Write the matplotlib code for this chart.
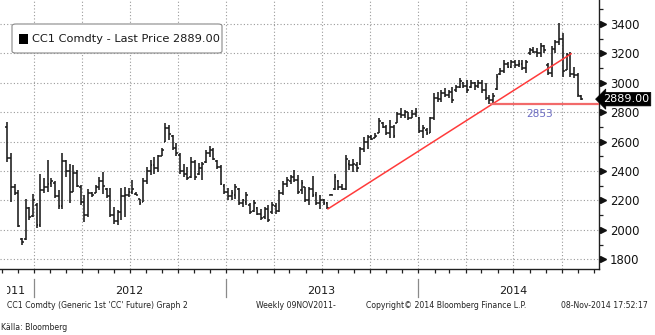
import matplotlib
matplotlib.use("Agg")
import matplotlib.pyplot as plt
import matplotlib.dates as mdates
from matplotlib.patches import FancyBboxPatch, Rectangle
from matplotlib.transforms import Bbox, blended_transform_factory
from matplotlib.lines import Line2D
import numpy as np
import pandas as pd

# ---- weekly OHLC, CC1 Comdty ----
week_start = "2011-11-11"
n_weeks = 157

opens = [2700, 2490, 2290, 2250, 1940, 1935, 2150, 2095, 2170, 2030,
         2270, 2290, 2320, 2320, 2230, 2160, 2470, 2400, 2260, 2390,
         2290, 2190, 2100, 2250, 2250, 2290, 2330, 2280, 2230, 2100,
         2060, 2120, 2230, 2240, 2260, 2245, 2210, 2190, 2330, 2400,
         2440, 2420, 2500, 2600, 2690, 2640, 2560, 2510, 2400, 2380,
         2360, 2460, 2380, 2420, 2460, 2520, 2540, 2470, 2430, 2300,
         2260, 2230, 2240, 2280, 2180, 2190, 2170, 2130, 2150, 2110,
         2090, 2140, 2120, 2160, 2130, 2250, 2310, 2330, 2360, 2340,
         2270, 2290, 2200, 2280, 2240, 2180, 2200, 2180, 2240, 2280,
         2330, 2290, 2280, 2450, 2440, 2440, 2450, 2550, 2600, 2630,
         2625, 2660, 2730, 2700, 2660, 2700, 2730, 2790, 2780, 2800,
         2760, 2790, 2760, 2670, 2680, 2660, 2760, 2900, 2890, 2930,
         2920, 2940, 2950, 2970, 3000, 2980, 2970, 3000, 2980, 3000,
         2950, 2900, 2880, 2960, 3060, 3080, 3130, 3110, 3140, 3120,
         3130, 3100, 3200, 3220, 3210, 3200, 3250, 3120, 3070, 3230,
         3280, 3300, 3090, 3190, 3060, 3050, 2910]

highs = [2735, 2520, 2310, 2270, 1945, 2208, 2156, 2247, 2180, 2383,
         2350, 2474, 2356, 2329, 2270, 2520, 2474, 2451, 2440, 2406,
         2304, 2236, 2281, 2258, 2304, 2360, 2395, 2285, 2285, 2158,
         2133, 2285, 2292, 2285, 2338, 2255, 2212, 2350, 2428, 2474,
         2496, 2508, 2560, 2728, 2712, 2645, 2590, 2520, 2451, 2428,
         2496, 2474, 2453, 2462, 2542, 2570, 2560, 2474, 2440, 2315,
         2285, 2270, 2315, 2285, 2213, 2258, 2180, 2202, 2156, 2145,
         2156, 2168, 2190, 2180, 2270, 2329, 2360, 2372, 2410, 2372,
         2338, 2292, 2292, 2365, 2258, 2236, 2213, 2190, 2245, 2383,
         2338, 2315, 2508, 2474, 2485, 2462, 2565, 2633, 2645, 2645,
         2656, 2758, 2735, 2712, 2746, 2712, 2803, 2826, 2814, 2803,
         2814, 2826, 2769, 2712, 2690, 2769, 2928, 2939, 2950, 2962,
         2950, 2973, 2985, 3030, 3007, 3019, 3019, 3007, 3019, 3019,
         2996, 2917, 2928, 3060, 3098, 3155, 3143, 3155, 3155, 3155,
         3155, 3155, 3234, 3245, 3234, 3268, 3257, 3132, 3250, 3291,
         3405, 3336, 3200, 3211, 3110, 3064, 2917]

lows = [2462, 2190, 2235, 2020, 1895, 1930, 2065, 2088, 2010, 2020,
        2249, 2258, 2292, 2216, 2145, 2145, 2360, 2180, 2258, 2292,
        2168, 2054, 2088, 2224, 2249, 2270, 2247, 2215, 2090, 2043,
        2030, 2066, 2088, 2224, 2247, 2235, 2170, 2190, 2315, 2370,
        2383, 2394, 2500, 2600, 2610, 2540, 2500, 2383, 2360, 2338,
        2350, 2338, 2372, 2338, 2453, 2496, 2474, 2417, 2304, 2247,
        2200, 2200, 2213, 2168, 2156, 2168, 2111, 2122, 2100, 2066,
        2077, 2054, 2111, 2111, 2122, 2236, 2292, 2315, 2326, 2247,
        2247, 2190, 2168, 2224, 2168, 2145, 2168, 2140, 2235, 2270,
        2270, 2270, 2270, 2405, 2394, 2394, 2440, 2530, 2553, 2610,
        2622, 2656, 2690, 2645, 2622, 2622, 2724, 2758, 2758, 2746,
        2758, 2769, 2656, 2622, 2645, 2656, 2746, 2871, 2871, 2905,
        2894, 2860, 2939, 2962, 2962, 2928, 2962, 2950, 2962, 2928,
        2882, 2853, 2853, 2950, 3053, 3064, 3098, 3098, 3098, 3109,
        3087, 3064, 3189, 3200, 3177, 3177, 3200, 3053, 3041, 3200,
        3257, 3041, 3087, 3041, 3030, 2905, 2882]

closes = [2490, 2290, 2250, 2025, 1915, 2150, 2090, 2200, 2030, 2270,
          2290, 2310, 2330, 2230, 2160, 2470, 2400, 2260, 2390, 2300,
          2190, 2100, 2250, 2240, 2290, 2330, 2300, 2230, 2100, 2060,
          2120, 2230, 2240, 2260, 2280, 2240, 2180, 2330, 2400, 2440,
          2420, 2500, 2540, 2690, 2650, 2560, 2520, 2400, 2380, 2350,
          2460, 2360, 2420, 2450, 2520, 2540, 2480, 2430, 2310, 2260,
          2230, 2250, 2290, 2180, 2200, 2240, 2120, 2180, 2110, 2080,
          2140, 2070, 2170, 2130, 2250, 2310, 2340, 2360, 2340, 2260,
          2320, 2200, 2280, 2240, 2180, 2200, 2180, 2150, 2240, 2360,
          2290, 2280, 2480, 2440, 2450, 2420, 2550, 2600, 2630, 2620,
          2640, 2740, 2700, 2660, 2700, 2640, 2790, 2780, 2800, 2760,
          2790, 2800, 2670, 2690, 2660, 2760, 2900, 2890, 2930, 2920,
          2940, 2880, 2970, 3010, 2980, 2950, 3000, 2980, 3000, 2950,
          2900, 2880, 2910, 3040, 3080, 3130, 3110, 3140, 3120, 3130,
          3100, 3140, 3220, 3210, 3200, 3250, 3220, 3070, 3230, 3280,
          3300, 3080, 3190, 3060, 3050, 2920, 2889]

last_price = 2889.00
support_level = 2853
support_start = "2014-05-17"
trend_dates = ["2013-07-12", "2014-10-20"]
trend_values = [2140, 3200]

y_ticks = [1800, 2000, 2200, 2400, 2600, 2800, 3000, 3200, 3400]
year_labels = ["2011", "2012", "2013", "2014"]
year_centers = ["2011-12-15", "2012-07-01", "2013-07-01", "2014-07-01"]
year_breaks = ["2012-01-01", "2013-01-01", "2014-01-01"]

FONT = "DejaVu Sans"
plt.rcParams["font.family"] = FONT

W, H = 655, 335
fig = plt.figure(figsize=(W / 100, H / 100), dpi=100, facecolor="white")

ax_left, ax_right, ax_top, ax_bottom = 0, 599, 0, 269
ax = fig.add_axes([ax_left / W, 1 - ax_bottom / H,
                   (ax_right - ax_left) / W, (ax_bottom - ax_top) / H])
ax.set_facecolor("white")

dates = pd.date_range(week_start, periods=n_weeks, freq="7D")
x = mdates.date2num(dates.to_pydatetime())
o = np.array(opens); h = np.array(highs); l = np.array(lows); c = np.array(closes)

bar_col = "#1a1a1a"
tick_w = 3.4  # days
ax.vlines(x, l, h, color=bar_col, lw=1.15, zorder=3)
ax.hlines(o, x - tick_w, x, color=bar_col, lw=1.1, zorder=3)
ax.hlines(c, x, x + tick_w, color=bar_col, lw=1.1, zorder=3)

# trend line and support level
td = mdates.date2num(pd.to_datetime(trend_dates).to_pydatetime())
ax.plot(td, trend_values, color="#ff3b3b", lw=1.1, zorder=4, solid_capstyle="butt")
xlim = (mdates.date2num(pd.Timestamp("2011-10-28 08:00")),
        mdates.date2num(pd.Timestamp("2014-12-10 19:00")))
sx = mdates.date2num(pd.Timestamp(support_start))
ax.plot([sx, xlim[1]], [support_level, support_level], color="#f26a6a", lw=1.6,
        zorder=4, solid_capstyle="butt")
ax.text(mdates.date2num(pd.Timestamp("2014-08-20")), 2788, f"{support_level}",
        color="#6c6cc4", fontsize=7.6, ha="center", va="center", zorder=5)

ax.set_xlim(*xlim)
ax.set_ylim(1734, 3563)

# axes styling
for s in ("left", "top"):
    ax.spines[s].set_visible(False)
ax.spines["right"].set_color("#202020")
ax.spines["bottom"].set_color("#202020")
ax.spines["right"].set_linewidth(1.0)
ax.spines["bottom"].set_linewidth(1.0)

ax.xaxis.set_major_locator(mdates.MonthLocator(bymonth=[1, 4, 7, 10]))
ax.xaxis.set_minor_locator(mdates.MonthLocator())
ax.tick_params(axis="x", which="both", direction="out", length=3, width=0.9,
               color="#202020", labelbottom=False)

ax.yaxis.tick_right()
ax.set_yticks(y_ticks)
ax.set_yticks(np.arange(1800, 3501, 100), minor=True)
ax.tick_params(axis="y", which="major", length=0, pad=8, labelsize=8.4,
               labelcolor="#111111")
ax.tick_params(axis="y", which="minor", length=3, width=0.9, color="#202020")
ax.tick_params(axis="y", which="both", left=False)

ax.grid(True, which="major", color="#9a9a9a", lw=0.8, ls=(0, (1, 2)))
ax.set_axisbelow(True)

# triangle markers on the value axis
tri_tr = blended_transform_factory(ax.transAxes, ax.transData)
ax.plot([1.006] * len(y_ticks), y_ticks, ls="none", marker=">", ms=4.2,
        color="#111111", transform=tri_tr, clip_on=False, zorder=6)

# last price tag, pointing at the value axis
tag_tr = blended_transform_factory(fig.transFigure, ax.transData)
ax.text(649 / W, last_price, f"{last_price:.2f}", transform=tag_tr, ha="right",
        va="center", fontsize=8.0, color="white", zorder=7,
        bbox=dict(boxstyle="larrow,pad=0.16", fc="black", ec="black", lw=0.5))

# legend box
lx0, ly0, lx1, ly1 = 12, 24, 222, 53
fig.patches.append(FancyBboxPatch((lx0 / W, 1 - ly1 / H), (lx1 - lx0) / W,
                                  (ly1 - ly0) / H, boxstyle="round,pad=0,rounding_size=0.006",
                                  transform=fig.transFigure, fc="white",
                                  ec="#8a8a8a", lw=0.8, zorder=10))
fig.patches.append(Rectangle((19 / W, 1 - 44 / H), 9 / W, 10 / H,
                             transform=fig.transFigure, fc="black", ec="black",
                             lw=0, zorder=11))
fig.text(32 / W, 1 - 39 / H, f"CC1 Comdty - Last Price {last_price:.2f}",
         fontsize=8.2, color="#1a1a1a", ha="left", va="center", zorder=12)

# year labels and separators below the axis
lab_tr = blended_transform_factory(ax.transData, fig.transFigure)
for lab, cen in zip(year_labels, year_centers):
    xc = mdates.date2num(pd.Timestamp(cen))
    if lab == year_labels[0]:
        t = fig.text(xc, 1 - 291 / H, lab, transform=lab_tr, fontsize=8.0,
                     color="#1a1a1a", ha="right", va="center")
        t.set_clip_box(Bbox.from_extents(7, 0, W, H))
        t.set_clip_on(True)
    else:
        fig.text(xc, 1 - 291 / H, lab, transform=lab_tr, fontsize=8.0,
                 color="#1a1a1a", ha="center", va="center")
for yb in year_breaks:
    xb = mdates.date2num(pd.Timestamp(yb))
    fig.add_artist(Line2D([xb, xb], [1 - 279 / H, 1 - 297 / H], transform=lab_tr,
                          color="#8a8a8a", lw=0.9))

# footer
foot_y = 1 - 306 / H
fig.text(7 / W, foot_y, "CC1 Comdty (Generic 1st 'CC' Future) Graph 2",
         fontsize=5.6, color="#222222", ha="left", va="center")
fig.text(256 / W, foot_y, "Weekly 09NOV2011-", fontsize=5.6, color="#222222",
         ha="left", va="center")
fig.text(366 / W, foot_y, "Copyright\u00a9 2014 Bloomberg Finance L.P.",
         fontsize=5.6, color="#222222", ha="left", va="center")
fig.text(648 / W, foot_y, "08-Nov-2014 17:52:17", fontsize=5.6, color="#222222",
         ha="right", va="center")
fig.text(1 / W, 1 - 327 / H, "K\u00e4lla: Bloomberg", fontsize=5.6,
         color="#222222", ha="left", va="center")

fig.savefig("out.png", dpi=100, facecolor="white")
